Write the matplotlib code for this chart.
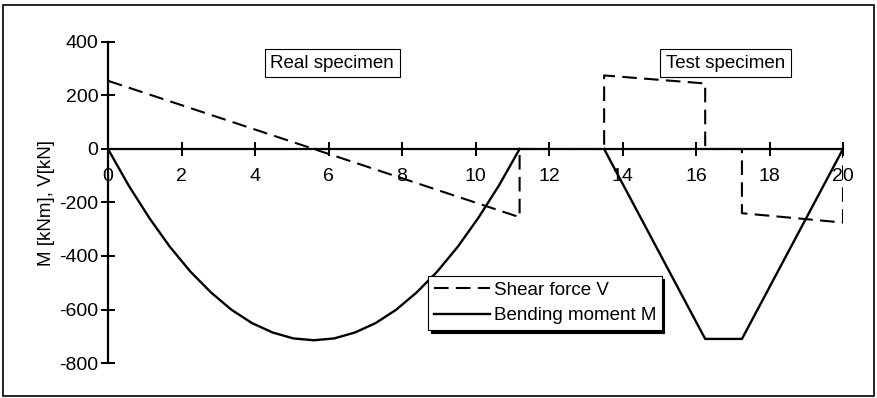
import matplotlib
matplotlib.use("Agg")
import matplotlib.pyplot as plt
from matplotlib.patches import Rectangle
from matplotlib.lines import Line2D

plt.rcParams['font.family'] = ['Liberation Sans', 'DejaVu Sans']
plt.rcParams['axes.unicode_minus'] = False

# Shear force V (real specimen + test specimen)
v_x = [0, 11.2, 11.2, 13.5, 13.5, 16.25, 16.25, 17.25, 17.25, 20, 20]
v_y = [255, -255, 0, 0, 275, 245, 0, 0, -240, -275, 0]

# Bending moment M, real specimen
m_real_x = [0, 0.56, 1.12, 1.68, 2.24, 2.80, 3.36, 3.92, 4.48, 5.04, 5.60,
            6.16, 6.72, 7.28, 7.84, 8.40, 8.96, 9.52, 10.08, 10.64, 11.2]
m_real_y = [0, -136, -257, -365, -458, -536, -601, -651, -686, -708, -715,
            -708, -686, -651, -601, -536, -458, -365, -257, -136, 0]

# Bending moment M, test specimen
m_test_x = [13.5, 16.25, 17.25, 20]
m_test_y = [0, -710, -710, 0]

x_ticks = [0, 2, 4, 6, 8, 10, 12, 14, 16, 18, 20]
y_ticks = [-800, -600, -400, -200, 0, 200, 400]

fig = plt.figure(figsize=(8.77, 3.98), dpi=100)
ax = fig.add_axes([108/877, 35/398, 735/877, 321/398])

dash = (0, (7, 3.5))
ax.plot(v_x, v_y, color='black', lw=1.5, linestyle=dash)
ax.plot(m_real_x, m_real_y, color='black', lw=1.7)
ax.plot(m_test_x, m_test_y, color='black', lw=1.7)

ax.set_xlim(0, 20)
ax.set_ylim(-800, 400)
ax.set_xticks(x_ticks)
ax.set_yticks(y_ticks)
ax.spines['top'].set_visible(False)
ax.spines['right'].set_visible(False)
ax.spines['bottom'].set_position(('data', 0))
ax.spines['left'].set_linewidth(1.6)
ax.spines['bottom'].set_linewidth(1.6)
ax.tick_params(axis='both', direction='inout', length=9.5, width=1.4,
               labelsize=14)
ax.tick_params(axis='x', pad=9)
ax.tick_params(axis='y', pad=2)
ax.set_ylabel('M [kNm], V[kN]', fontsize=13.5, labelpad=3)
ax.patch.set_visible(False)

box = dict(boxstyle='square,pad=0.3', facecolor='white', edgecolor='black', lw=0.8)
ax.text(6.1, 321, 'Real specimen', ha='center', va='center', fontsize=13.5, bbox=box)
ax.text(16.8, 321, 'Test specimen', ha='center', va='center', fontsize=13.5, bbox=box)

handles = [Line2D([], [], color='black', lw=1.5, linestyle=dash),
           Line2D([], [], color='black', lw=1.7)]
leg = fig.legend(handles, ['Shear force V', 'Bending moment M'],
                 loc='upper left', bbox_to_anchor=(428/877, 1 - 276/398),
                 fontsize=13.5, frameon=True, fancybox=False,
                 shadow={'color': 'black', 'alpha': 1},
                 handlelength=3.0, handletextpad=0.2, borderpad=0.3,
                 labelspacing=0.45, borderaxespad=0)
leg.get_frame().set_edgecolor('black')
leg.get_frame().set_linewidth(0.8)

fig.patches.append(Rectangle((3/877, 2/398), 871/877, 391/398,
                             transform=fig.transFigure, fill=False,
                             edgecolor='black', lw=1.2))

fig.savefig('out.png', dpi=100)
